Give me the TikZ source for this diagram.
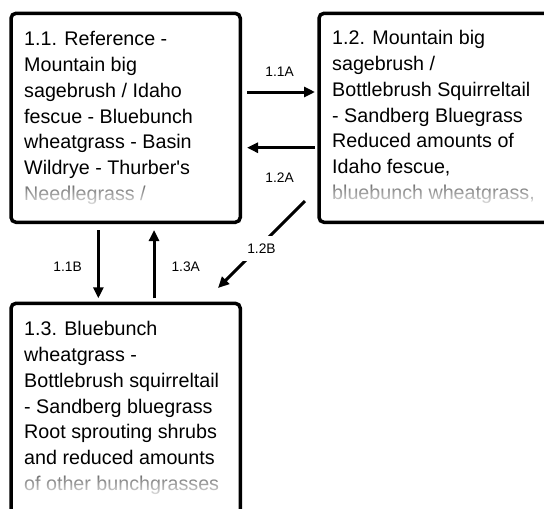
\documentclass[tikz,border=0pt]{standalone}
\usepackage{fontspec}
\setmainfont{Liberation Sans}
\usetikzlibrary{arrows.meta}
\usetikzlibrary{fadings}
\tikzfading[name=linefade, top color=transparent!55, bottom color=transparent!10]
\tikzset{
  mybox/.style={
    draw=black,
    shape=rectangle,
    line width=3.5pt,
    rounded corners=5pt,
    anchor=north west,
    inner sep=0pt,
    outer sep=0pt,
  },
  mytext/.style={
    anchor=north west,
    align=left,
    inner sep=0pt,
    font=\fontsize{19.7}{25.8}\selectfont
  },
  myarrow/.style={
    draw=black,
    line width=3pt,
    -{Triangle[length=11pt,width=10pt]},
  },
  mylabel/.style={
    inner sep=0pt,
    font=\fontsize{13.8}{16}\selectfont
  },
  myfade/.style={
    fill=white,
    path fading=linefade,
  }
}

\begin{document}
\begin{tikzpicture}[x=1pt, y=-1pt]
    \clip (0,0) rectangle (544,509);

    \node [mybox, minimum width=229.3pt, minimum height=209pt] (s11) at (11,13.3) {};
    \node [mybox, minimum width=240pt, minimum height=209pt] (s12) at (319,13.3) {};
    \node [mybox, minimum width=229.3pt, minimum height=230pt] (s13) at (11,303.3) {};

    \node [mytext] (t11) at ([xshift=13pt, yshift=-18pt]s11.north west)
      {1.1. Reference -\\Mountain big\\sagebrush / Idaho\\fescue - Bluebunch\\wheatgrass - Basin\\Wildrye - Thurber\textquotesingle s\\Needlegrass /};
    \node [mytext] (t12) at ([xshift=13pt, yshift=-17pt]s12.north west)
      {1.2. Mountain big\\sagebrush /\\Bottlebrush Squirreltail\\- Sandberg Bluegrass\\Reduced amounts of\\Idaho fescue,\\bluebunch wheatgrass,};
    \node [mytext] (t13) at ([xshift=13pt, yshift=-18pt]s13.north west)
      {1.3. Bluebunch\\wheatgrass -\\Bottlebrush squirreltail\\- Sandberg bluegrass\\Root sprouting shrubs\\and reduced amounts\\of other bunchgrasses};

    % last lines fade out
    \fill [myfade] ([xshift=-4pt, yshift=-1pt]t11.south west) rectangle ([xshift=4pt, yshift=19pt]t11.south east);
    \fill [myfade] ([xshift=-4pt, yshift=-1pt]t12.south west) rectangle ([xshift=4pt, yshift=19pt]t12.south east);
    \fill [myfade] ([xshift=-4pt, yshift=-1pt]t13.south west) rectangle ([xshift=4pt, yshift=19pt]t13.south east);

    \draw [myarrow, shorten <=6.7pt, shorten >=4pt] ([yshift=25.8pt]s11.east) -- ([yshift=25.8pt]s11.east -| s12.west)
      node [mylabel, midway, above=14.5pt] {1.1A};
    \draw [myarrow, shorten <=4pt, shorten >=6.7pt] ([yshift=-29.9pt]s12.west) -- ([yshift=-29.9pt]s12.west -| s11.east)
      node [mylabel, midway, below=23.5pt] {1.2A};

    \draw [myarrow, shorten <=7.7pt, shorten >=5pt] ([xshift=-27.3pt]s11.south) -- ([xshift=-27.3pt]s11.south |- s13.north)
      node [mylabel, midway, left=15pt, yshift=-4pt] {1.1B};
    \draw [myarrow, shorten <=5pt, shorten >=7.7pt] ([xshift=28.4pt]s13.north) -- ([xshift=28.4pt]s13.north |- s11.south)
      node [mylabel, midway, right=16pt, yshift=-4pt] {1.3A};

    \draw [myarrow] ([xshift=-14pt, yshift=21.3pt]s12.south west) -- ([xshift=-22.3pt, yshift=15.3pt]s13.north east)
      node [mylabel, midway, yshift=-4pt, fill=white, inner sep=8pt] {1.2B};
\end{tikzpicture}
\end{document}
